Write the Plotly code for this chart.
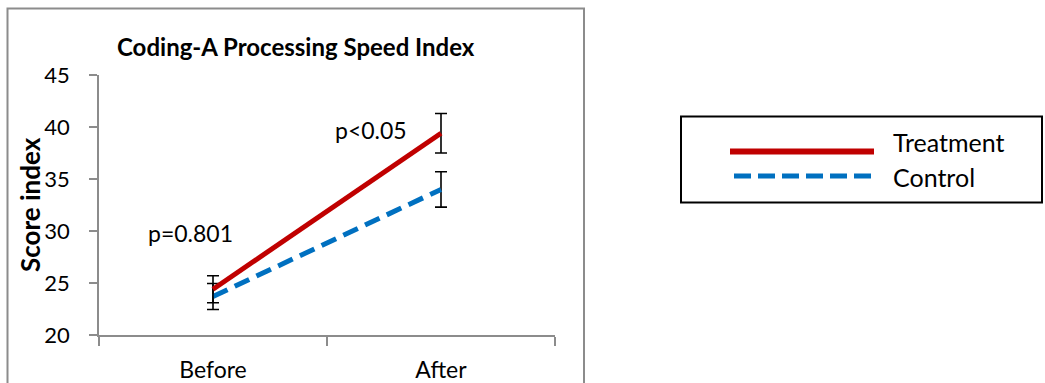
import plotly.graph_objects as go

categories = ["Before", "After"]
series_names = ["Treatment", "Control"]
treatment = [24.4, 39.4]
treatment_err = [1.3, 1.9]
control = [23.7, 34.0]
control_err = [1.25, 1.7]
y_ticks = [20, 25, 30, 35, 40, 45]
p_labels = ["p=0.801", "p<0.05"]
p_label_y = [29.8, 39.75]
y_title = "Score index"
chart_title = "Coding-A Processing Speed Index"

W, H = 1045, 383
L, R, T, B = 99, 555, 75, 335  # plot area in pixels

def px(x):
    return (x - L) / (R - L)

def py(y):
    return (B - y) / (B - T)

FONT = "Lato"
RED = "#C00000"
BLUE = "#0070C0"
GRAY = "#8C8C8C"

fig = go.Figure()
fig.add_trace(go.Scatter(
    x=categories, y=control, name=series_names[1], mode="lines",
    line=dict(color=BLUE, width=5, dash="16px,8px"),
    error_y=dict(type="data", array=control_err, color="black", thickness=1.6, width=6),
    showlegend=False,
))
fig.add_trace(go.Scatter(
    x=categories, y=treatment, name=series_names[0], mode="lines",
    line=dict(color=RED, width=5),
    error_y=dict(type="data", array=treatment_err, color="black", thickness=1.6, width=6),
    showlegend=False,
))

shapes = []
# outer chart frame
shapes.append(dict(type="rect", xref="paper", yref="paper",
                   x0=px(7.5), x1=px(584), y0=py(390), y1=py(8.5),
                   line=dict(color=GRAY, width=2), fillcolor="rgba(0,0,0,0)", layer="below"))
# legend box
shapes.append(dict(type="rect", xref="paper", yref="paper",
                   x0=px(681), x1=px(1042), y0=py(202.5), y1=py(116.5),
                   line=dict(color="black", width=2), fillcolor="white"))
# legend samples
shapes.append(dict(type="line", xref="paper", yref="paper",
                   x0=px(730), x1=px(874), y0=py(151.5), y1=py(151.5),
                   line=dict(color=RED, width=6)))
shapes.append(dict(type="line", xref="paper", yref="paper",
                   x0=px(734), x1=px(874), y0=py(176), y1=py(176),
                   line=dict(color=BLUE, width=5, dash="17px,7px")))

annotations = [
    dict(text=p_labels[0], x=0, y=p_label_y[0], xref="x", yref="y", showarrow=False,
         xshift=-23, xanchor="center", yanchor="middle",
         font=dict(family=FONT, size=23, color="black")),
    dict(text=p_labels[1], x=1, y=p_label_y[1], xref="x", yref="y", showarrow=False,
         xshift=-70, xanchor="center", yanchor="middle",
         font=dict(family=FONT, size=23, color="black")),
    dict(text=f"<b>{chart_title}</b>", x=px(296), y=py(47),
         xref="paper", yref="paper", showarrow=False, xanchor="center", yanchor="middle",
         font=dict(family=FONT, size=24, color="black")),
    dict(text=f"<b>{y_title}</b>", x=px(30), y=py(205), textangle=-90,
         xref="paper", yref="paper", showarrow=False, xanchor="center", yanchor="middle",
         font=dict(family=FONT, size=26, color="black")),
    dict(text=series_names[0], x=px(891), y=py(142), xref="paper", yref="paper",
         xanchor="left", yanchor="middle", showarrow=False,
         font=dict(family=FONT, size=25, color="black")),
    dict(text=series_names[1], x=px(891), y=py(176.5), xref="paper", yref="paper",
         xanchor="left", yanchor="middle", showarrow=False,
         font=dict(family=FONT, size=25, color="black")),
]

fig.update_layout(
    width=W, height=H,
    margin=dict(l=L, r=W - R, t=T, b=H - B, pad=0, autoexpand=False),
    paper_bgcolor="white", plot_bgcolor="white",
    font=dict(family=FONT, size=23, color="black"),
    shapes=shapes, annotations=annotations,
    showlegend=False,
)
fig.update_xaxes(
    type="category", range=[-0.5, 1.5], tickson="boundaries", automargin=False,
    ticks="outside", ticklen=9, tickwidth=1.5, tickcolor=GRAY,
    showline=True, linecolor=GRAY, linewidth=1.5, showgrid=False, zeroline=False,
    tickfont=dict(family=FONT, size=23, color="black"), ticklabelstandoff=14,
)
fig.update_yaxes(
    range=[20, 45], tickvals=y_ticks, ticks="outside", ticklen=8, tickwidth=1.5,
    tickcolor=GRAY, showline=True, linecolor=GRAY, linewidth=1.5, automargin=False,
    showgrid=False, zeroline=False,
    tickfont=dict(family=FONT, size=22, color="black"), ticklabelstandoff=15,
)

fig.write_html("out.html", config={"displayModeBar": False},
               post_script="document.body.style.margin='0';")
